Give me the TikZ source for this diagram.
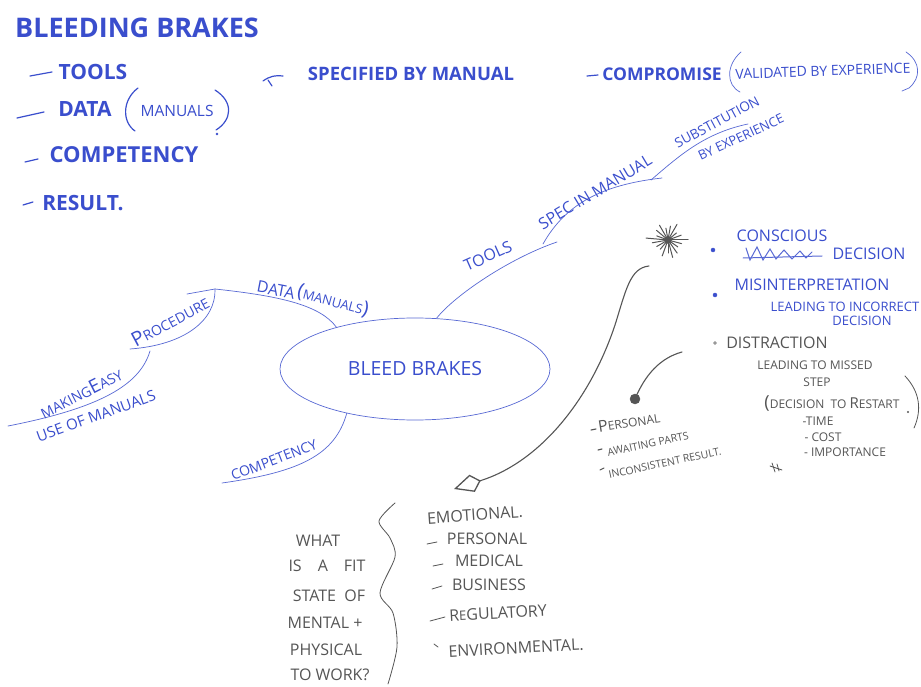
\documentclass[tikz,border=0pt]{standalone}
\usepackage{fontspec}
\setmainfont{Open Sans}
\usepackage{xcolor}
\usepackage{tikz}
\usetikzlibrary{shapes.geometric,arrows.meta}

\begin{document}
\begin{tikzpicture}[x=1pt,y=-1pt,
    every node/.style={inner sep=0pt},
    titletext/.style={text=myblue,font=\fontsize{27}{29}\selectfont\bfseries},
    topitem/.style={text=myblue,font=\fontsize{21}{23}\selectfont\bfseries},
    midbold/.style={text=myblue,font=\fontsize{18.5}{20}\selectfont\bfseries},
    maplbl/.style={text=myblue,font=\fontsize{16}{18}\selectfont},
    smallblue/.style={text=myblue,font=\fontsize{14}{16}\selectfont},
    pencil/.style={text=mygray,font=\fontsize{16}{18}\selectfont},
    pensmall/.style={text=mygray,font=\fontsize{12}{14}\selectfont},
    inkline/.style={draw=myblue,line width=1.2pt,line cap=round},
    mapline/.style={draw=myblue!85,line width=0.7pt,line cap=round},
    penline/.style={draw=mygray,line width=1.1pt,line cap=round}]
    % 颜色列表
    \definecolor{myblue}{RGB}{58,78,205}
    \definecolor{mygray}{RGB}{85,85,85}
    \fill[white] (0,0) rectangle (921,687);
    \useasboundingbox (0,0) rectangle (921,687);

    % 左上角列表
    \node[titletext] (heading) at (137,28) {BLEEDING BRAKES};
    \node[topitem] (ttools) at (93,72) {TOOLS};
    \node[topitem] (tdata) at (85,109) {DATA};
    \node[smallblue,font=\fontsize{15.5}{17}\selectfont] (tmanuals) at (177,111) {MANUALS};
    \node[topitem,font=\fontsize{22}{24}\selectfont\bfseries] (tcomp) at (124,155) {COMPETENCY};
    \node[topitem] (tresult) at (83,203) {RESULT.};
    \draw[inkline] (30,76) -- (52,72);
    \draw[inkline] (17,118) -- (44,112);
    \draw[inkline] (25,162) -- (38,159);
    \draw[inkline] (23,205) -- (33,202);
    \draw[inkline] (138,88) .. controls (122,100) and (122,122) .. (135,131);
    \draw[inkline] (215,90) .. controls (234,102) and (232,120) .. (216,130);
    \fill[myblue] (217,134) circle (1.3);

    % 上方说明
    \draw[inkline] (263,81) .. controls (270,76) and (276,75) .. (283,76);
    \draw[inkline] (268,80) -- (272,86);
    \node[midbold] (specified) at (411,74) {SPECIFIED BY MANUAL};
    \draw[inkline] (587,76) -- (598,75);
    \node[midbold,font=\fontsize{17.5}{19}\selectfont\bfseries] (compromise) at (662,74) {COMPROMISE};
    \node[maplbl,font=\fontsize{14}{16}\selectfont,rotate=2] (validated) at (823,71) {VALIDATED BY EXPERIENCE};
    \draw[mapline] (741,52) .. controls (726,65) and (726,85) .. (740,92);
    \draw[mapline] (906,52) .. controls (921,62) and (921,78) .. (909,88) -- (902,91);

    % 中心椭圆
    \node[draw=myblue!85,line width=0.7pt,ellipse,minimum width=270pt,minimum height=102pt,
      maplbl,font=\fontsize{19.5}{21}\selectfont] (bleed) at (415,369) {BLEED BRAKES};

    % 工具分支
    \coordinate (toolsEnd) at (557,242);
    \coordinate (specStart) at (543,244);
    \coordinate (specEnd) at (662,178);
    \coordinate (substStart) at (651,180);
    \coordinate (substEnd) at (748,124);
    \draw[mapline] (bleed.67) .. controls (455,295) and (510,258) .. (toolsEnd);
    \draw[mapline] (specStart) .. controls (565,205) and (600,185) .. (specEnd);
    \draw[mapline] (substStart) .. controls (680,155) and (705,133) .. (substEnd);
    \node[maplbl,rotate=24] (toolslbl) at (488,256) {TOOLS};
    \node[maplbl,rotate=31] (speclbl) at (595,192) {SPEC IN MANUAL};
    \node[smallblue,font=\fontsize{13.5}{15}\selectfont,rotate=28] (substlbl) at (717,122) {SUBSTITUTION};
    \node[smallblue,font=\fontsize{13}{15}\selectfont,rotate=25] (bylbl) at (741,137) {BY EXPERIENCE};

    % 资料与程序分支
    \coordinate (dataEnd) at (215,289);
    \coordinate (dataTail) at (187,294);
    \coordinate (procEnd) at (130,349);
    \coordinate (easyStart) at (150,351);
    \coordinate (easyEnd) at (8,426);
    \draw[mapline] (bleed.152) .. controls (320,305) and (280,296) .. (dataEnd) -- (dataTail);
    \draw[mapline] (dataEnd) .. controls (216,320) and (185,345) .. (procEnd);
    \draw[mapline] (easyStart) .. controls (140,385) and (100,408) .. (easyEnd);
    \node[maplbl,rotate=-11] (datalbl) at (276,290) {DATA};
    \node[smallblue,font=\fontsize{13}{15}\selectfont,rotate=-15] (manlbl) at (333,301)
      {{\fontsize{20}{20}\selectfont(}MANUALS{\fontsize{20}{20}\selectfont)}};
    \node[smallblue,rotate=28] (proclbl) at (170,321) {{\fontsize{20}{20}\selectfont P}ROCEDURE};
    \node[smallblue,rotate=27] (easylbl) at (81,393) {MAKING{\fontsize{19}{19}\selectfont E}ASY};
    \node[smallblue,font=\fontsize{15}{17}\selectfont,rotate=20] (uselbl) at (96,416) {USE OF MANUALS};

    % 能力分支
    \coordinate (compEnd) at (222,483);
    \draw[mapline] (bleed.213) .. controls (335,455) and (300,472) .. (compEnd);
    \node[smallblue,rotate=21] (complbl) at (274,460) {COMPETENCY};

    % 右侧：决定与失误
    \coordinate (star) at (668,240);
    \foreach \a/\r in {0/20,15/14,35/12,55/16,75/18,90/13,110/17,130/12,150/13,170/16,185/22,200/12,220/15,240/17,260/12,280/14,300/18,320/11,340/14}
      \draw[penline,line width=1pt] (star) -- ++(\a:\r);
    \filldraw[mygray] (star) circle (3.5pt);
    \filldraw[myblue] (713,250) circle (2pt);
    \filldraw[myblue] (715,295) circle (2pt);
    \filldraw[mygray!60] (715,343) circle (1.6pt);
    \node[maplbl] (conscious) at (782,236) {CONSCIOUS};
    \draw[mapline,line width=1pt] (746,248) -- (750,260) -- (757,247) -- (763,260) -- (770,249) -- (776,259)
      -- (784,250) -- (792,259) -- (800,251) -- (806,258) -- (812,252);
    \draw[mapline,line width=1pt] (743,258) -- (822,256);
    \node[maplbl] (decision1) at (869,254) {DECISION};
    \node[maplbl] (misinterp) at (812,285) {MISINTERPRETATION};
    \node[smallblue,font=\fontsize{13}{15}\selectfont] (incorrect) at (845,307) {LEADING TO INCORRECT};
    \node[smallblue,font=\fontsize{13}{15}\selectfont] (decision2) at (862,321) {DECISION};
    \node[pencil] (distraction) at (777,343) {DISTRACTION};
    \node[pensmall] (missed) at (815,365) {LEADING TO MISSED};
    \node[pensmall] (steplbl) at (817,382) {STEP};
    \node[pensmall] (restart) at (832,403)
      {{\fontsize{18}{18}\selectfont(}DECISION\ \ TO\ {\fontsize{15}{15}\selectfont R}ESTART};
    \draw[penline,line width=0.8pt] (905,376) .. controls (920,392) and (922,410) .. (914,428);
    \fill[mygray] (908,412) circle (1.2);
    \node[pensmall] (timelbl) at (818,421) {-TIME};
    \node[pensmall] (costlbl) at (823,437) {- COST};
    \node[pensmall] (importlbl) at (845,452) {- IMPORTANCE};
    \draw[penline,line width=0.8pt] (770,466) -- (782,470);
    \draw[penline,line width=0.8pt] (772,463) -- (775,472);
    \draw[penline,line width=0.8pt] (777,464) -- (779,471);

    % 铅笔箭头
    \coordinate (bigStart) at (649,266);
    \coordinate (fitArrow) at (454,489);
    \draw[penline,-{Kite[open,length=28pt,width=18pt,inset=9pt,line width=1.3pt]}]
      (bigStart) .. controls (630,268) and (626,290) .. (615,325)
      .. controls (590,400) and (540,462) .. (fitArrow);
    \coordinate (smallStart) at (682,352);
    \coordinate (blob) at (635,399);
    \draw[penline] (smallStart) .. controls (660,358) and (645,375) .. (blob);
    \filldraw[mygray] (blob) circle (5pt);

    % 个人原因
    \node[pensmall,rotate=9] (perslbl) at (629,422) {{\fontsize{16}{16}\selectfont P}ERSONAL};
    \node[pensmall,font=\fontsize{10.5}{12}\selectfont,rotate=12] (awaitlbl) at (648,444) {AWAITING PARTS};
    \node[pensmall,font=\fontsize{10.5}{12}\selectfont,rotate=12] (inconlbl) at (665,463) {INCONSISTENT RESULT.};
    \draw[penline] (591,430) -- (596,429);
    \draw[penline] (598,450) -- (602,449);
    \draw[penline] (600,470) -- (604,468);

    % 底部问题
    \node[pencil] (q1) at (318,541) {WHAT};
    \node[pencil] (q2) at (327,566) {IS\quad A\quad FIT};
    \node[pencil] (q3) at (329,596) {STATE\ \ OF};
    \node[pencil] (q4) at (325,623) {MENTAL +};
    \node[pencil] (q5) at (326,650) {PHYSICAL};
    \node[pencil] (q6) at (330,675) {TO WORK?};
    \draw[penline,line width=0.8pt] plot[smooth] coordinates
      {(395,503) (379,521) (390,538) (395,557) (380,593) (393,613) (397,647) (388,684)};

    % 右侧列表
    \node[pencil,rotate=4] (emo) at (475,515) {EMOTIONAL.};
    \node[pencil] (pers2) at (487,539) {PERSONAL};
    \node[pencil] (medical) at (489,561) {MEDICAL};
    \node[pencil] (business) at (489,585) {BUSINESS};
    \node[pencil,rotate=3] (regul) at (498,613) {R{\fontsize{13}{13}\selectfont E}GULATORY};
    \node[pencil,rotate=3] (environ) at (516,648) {ENVIRONMENTAL.};
    \draw[penline,line width=0.8pt] (427,544) -- (437,542);
    \draw[penline,line width=0.8pt] (433,566) -- (443,564);
    \draw[penline,line width=0.8pt] (432,589) -- (442,586);
    \draw[penline,line width=0.8pt] (430,621) -- (445,617);
    \draw[penline,line width=0.8pt] (434,644) -- (438,647);
\end{tikzpicture}
\end{document}
